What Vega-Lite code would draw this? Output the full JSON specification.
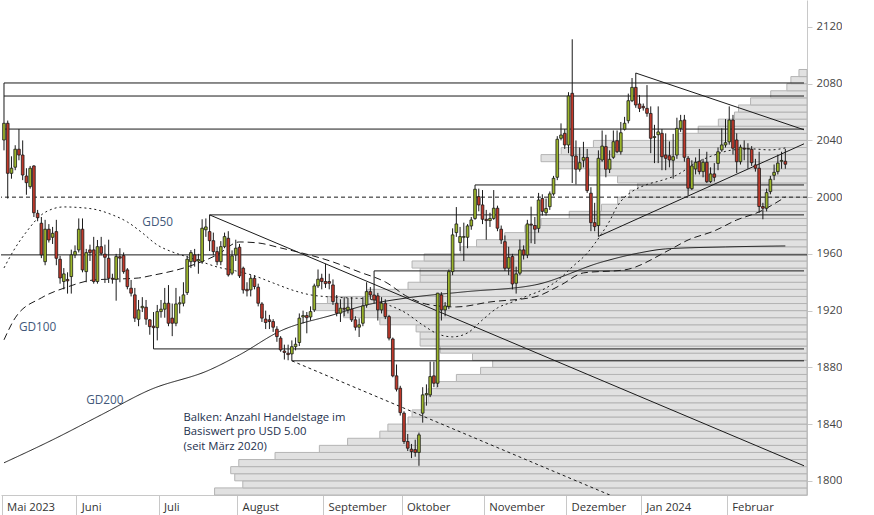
{
  "$schema": "https://vega.github.io/schema/vega-lite/v6.json",
  "width": 806,
  "height": 495,
  "padding": 0,
  "background": "white",
  "config": {
    "view": {"stroke": null},
    "font": "Open Sans",
    "axis": {"labelFont": "Open Sans", "labelFontSize": 11.3, "labelColor": "#444444", "domainColor": "#c8c8c8", "tickColor": "#c8c8c8", "grid": false, "title": null}
  },
  "datasets": {
    "candles": [
      {"date":"2023-05-04","o":2040.3,"h":2080.5,"l":2033,"c":2052.1},
      {"date":"2023-05-05","o":2052.1,"h":2054,"l":1999,"c":2016.8},
      {"date":"2023-05-08","o":2016.8,"h":2028.8,"l":2013,"c":2020.4},
      {"date":"2023-05-09","o":2021.1,"h":2036.6,"l":2019,"c":2033.8},
      {"date":"2023-05-10","o":2033.8,"h":2048,"l":2026,"c":2029.7},
      {"date":"2023-05-11","o":2029.7,"h":2040,"l":2012,"c":2015.6},
      {"date":"2023-05-12","o":2014.9,"h":2020.4,"l":2001.7,"c":2010.2},
      {"date":"2023-05-15","o":2007.4,"h":2022,"l":2006,"c":2020.4},
      {"date":"2023-05-16","o":2022,"h":2022.5,"l":1986,"c":1989},
      {"date":"2023-05-17","o":1988.6,"h":1991,"l":1983,"c":1985.5},
      {"date":"2023-05-18","o":1981.6,"h":1986,"l":1957,"c":1959.3},
      {"date":"2023-05-19","o":1954.5,"h":1984,"l":1952,"c":1977.4},
      {"date":"2023-05-22","o":1977.4,"h":1981,"l":1968,"c":1969.8},
      {"date":"2023-05-23","o":1971.7,"h":1979,"l":1967,"c":1974.5},
      {"date":"2023-05-24","o":1975.7,"h":1984,"l":1952,"c":1956.9},
      {"date":"2023-05-25","o":1956.2,"h":1958.6,"l":1939,"c":1943},
      {"date":"2023-05-26","o":1940.5,"h":1950,"l":1935,"c":1945.9},
      {"date":"2023-05-29","o":1942,"h":1947,"l":1932,"c":1941},
      {"date":"2023-05-30","o":1944,"h":1963,"l":1932,"c":1959.3},
      {"date":"2023-05-31","o":1959.3,"h":1966,"l":1957,"c":1961.6},
      {"date":"2023-06-01","o":1962.8,"h":1985,"l":1961,"c":1977.4},
      {"date":"2023-06-02","o":1977.4,"h":1985,"l":1947,"c":1948.7},
      {"date":"2023-06-05","o":1947.5,"h":1963.5,"l":1940,"c":1960.9},
      {"date":"2023-06-06","o":1962.8,"h":1966.5,"l":1955,"c":1960.9},
      {"date":"2023-06-07","o":1962.8,"h":1972,"l":1939,"c":1940.5},
      {"date":"2023-06-08","o":1940.5,"h":1969.8,"l":1939,"c":1965.1},
      {"date":"2023-06-09","o":1965.1,"h":1972,"l":1959,"c":1960.4},
      {"date":"2023-06-12","o":1959.8,"h":1966.5,"l":1939.5,"c":1957.6},
      {"date":"2023-06-13","o":1956.9,"h":1970,"l":1939.5,"c":1942.8},
      {"date":"2023-06-14","o":1942.8,"h":1946,"l":1939,"c":1942.2},
      {"date":"2023-06-15","o":1942.1,"h":1960,"l":1927,"c":1958.1},
      {"date":"2023-06-16","o":1958,"h":1964,"l":1940,"c":1957},
      {"date":"2023-06-19","o":1958.8,"h":1961,"l":1946,"c":1947.5},
      {"date":"2023-06-20","o":1948.7,"h":1950,"l":1935,"c":1936.9},
      {"date":"2023-06-21","o":1935.8,"h":1941.6,"l":1930,"c":1932.3},
      {"date":"2023-06-22","o":1931.1,"h":1936,"l":1912,"c":1914.7},
      {"date":"2023-06-23","o":1913.9,"h":1927.5,"l":1909,"c":1920.5},
      {"date":"2023-06-26","o":1922,"h":1929.5,"l":1919,"c":1923},
      {"date":"2023-06-27","o":1922.4,"h":1927.5,"l":1910,"c":1914},
      {"date":"2023-06-28","o":1913.5,"h":1914,"l":1903,"c":1908.7},
      {"date":"2023-06-29","o":1909,"h":1919,"l":1893,"c":1908},
      {"date":"2023-06-30","o":1908,"h":1924,"l":1899,"c":1919.3},
      {"date":"2023-07-03","o":1919.3,"h":1927.5,"l":1915,"c":1921},
      {"date":"2023-07-04","o":1921,"h":1936,"l":1915,"c":1925.2},
      {"date":"2023-07-05","o":1925.2,"h":1938,"l":1909,"c":1911.1},
      {"date":"2023-07-06","o":1914.7,"h":1925,"l":1902,"c":1911.1},
      {"date":"2023-07-07","o":1911.1,"h":1936,"l":1909,"c":1924.7},
      {"date":"2023-07-10","o":1924.7,"h":1930,"l":1918,"c":1925.5},
      {"date":"2023-07-11","o":1925.2,"h":1940,"l":1923,"c":1931.1},
      {"date":"2023-07-12","o":1932.7,"h":1958.6,"l":1931,"c":1956.2},
      {"date":"2023-07-13","o":1954.5,"h":1962.7,"l":1950,"c":1960.9},
      {"date":"2023-07-14","o":1959.3,"h":1963.5,"l":1951,"c":1954.5},
      {"date":"2023-07-17","o":1955,"h":1960,"l":1946,"c":1956},
      {"date":"2023-07-18","o":1954.5,"h":1984.4,"l":1953,"c":1978.1},
      {"date":"2023-07-19","o":1977,"h":1985,"l":1972,"c":1979},
      {"date":"2023-07-20","o":1975.7,"h":1987.5,"l":1962,"c":1969.3},
      {"date":"2023-07-21","o":1969.3,"h":1975,"l":1959,"c":1961.6},
      {"date":"2023-07-24","o":1961.6,"h":1965,"l":1952,"c":1954.5},
      {"date":"2023-07-25","o":1954.5,"h":1969,"l":1952,"c":1965.1},
      {"date":"2023-07-26","o":1965.1,"h":1975,"l":1964,"c":1972.2},
      {"date":"2023-07-27","o":1971,"h":1976,"l":1944,"c":1945.2},
      {"date":"2023-07-28","o":1946.4,"h":1962.5,"l":1945,"c":1958.6},
      {"date":"2023-07-31","o":1959.3,"h":1970,"l":1955,"c":1964},
      {"date":"2023-08-01","o":1964.7,"h":1967,"l":1943,"c":1944.5},
      {"date":"2023-08-02","o":1949.9,"h":1951,"l":1932,"c":1934.6},
      {"date":"2023-08-03","o":1935,"h":1940,"l":1930,"c":1934},
      {"date":"2023-08-04","o":1934.6,"h":1945,"l":1930,"c":1942.8},
      {"date":"2023-08-07","o":1942.8,"h":1945,"l":1935,"c":1937},
      {"date":"2023-08-08","o":1936.5,"h":1939,"l":1923,"c":1925.2},
      {"date":"2023-08-09","o":1924.7,"h":1926,"l":1912,"c":1914.7},
      {"date":"2023-08-10","o":1914,"h":1920,"l":1907,"c":1911.6},
      {"date":"2023-08-11","o":1913.5,"h":1917,"l":1907,"c":1912.3},
      {"date":"2023-08-14","o":1912.3,"h":1914,"l":1905,"c":1908.3},
      {"date":"2023-08-15","o":1906.9,"h":1909,"l":1898,"c":1901.7},
      {"date":"2023-08-16","o":1900.6,"h":1902,"l":1891,"c":1892.3},
      {"date":"2023-08-17","o":1891.5,"h":1896,"l":1885.5,"c":1890.5},
      {"date":"2023-08-18","o":1890,"h":1896,"l":1885,"c":1889},
      {"date":"2023-08-21","o":1889.5,"h":1899,"l":1884.6,"c":1894.6},
      {"date":"2023-08-22","o":1894.6,"h":1901,"l":1892,"c":1896.3},
      {"date":"2023-08-23","o":1897.5,"h":1918,"l":1895,"c":1914.7},
      {"date":"2023-08-24","o":1915.5,"h":1920,"l":1911,"c":1916.5},
      {"date":"2023-08-25","o":1916.5,"h":1919,"l":1904,"c":1915},
      {"date":"2023-08-28","o":1915.5,"h":1923,"l":1913,"c":1919.3},
      {"date":"2023-08-29","o":1920.5,"h":1939,"l":1919,"c":1937.4},
      {"date":"2023-08-30","o":1937.4,"h":1949,"l":1936,"c":1942.1},
      {"date":"2023-08-31","o":1942.8,"h":1946,"l":1935,"c":1940.5},
      {"date":"2023-09-01","o":1940.5,"h":1953,"l":1936,"c":1939},
      {"date":"2023-09-04","o":1940.5,"h":1946,"l":1935,"c":1939.3},
      {"date":"2023-09-05","o":1938.1,"h":1942,"l":1924,"c":1926.4},
      {"date":"2023-09-06","o":1925.2,"h":1931,"l":1916,"c":1918.2},
      {"date":"2023-09-07","o":1918.2,"h":1928,"l":1912,"c":1921.7},
      {"date":"2023-09-08","o":1921.7,"h":1929.5,"l":1916,"c":1921},
      {"date":"2023-09-11","o":1920.5,"h":1929,"l":1918,"c":1922.4},
      {"date":"2023-09-12","o":1921,"h":1929.5,"l":1912,"c":1913.5},
      {"date":"2023-09-13","o":1913.5,"h":1916,"l":1906,"c":1908.3},
      {"date":"2023-09-14","o":1908.3,"h":1914.5,"l":1901.4,"c":1910},
      {"date":"2023-09-15","o":1911.1,"h":1929.5,"l":1909,"c":1923.3},
      {"date":"2023-09-18","o":1924,"h":1940,"l":1922,"c":1933.4},
      {"date":"2023-09-19","o":1933.4,"h":1936.6,"l":1928,"c":1931.1},
      {"date":"2023-09-20","o":1931,"h":1948,"l":1925,"c":1927.5},
      {"date":"2023-09-21","o":1930.4,"h":1932.5,"l":1913,"c":1920.5},
      {"date":"2023-09-22","o":1920.5,"h":1929.5,"l":1918,"c":1925.2},
      {"date":"2023-09-25","o":1925.2,"h":1928,"l":1914,"c":1915.8},
      {"date":"2023-09-26","o":1915.8,"h":1917,"l":1899,"c":1900.6},
      {"date":"2023-09-27","o":1900,"h":1901,"l":1873,"c":1874},
      {"date":"2023-09-28","o":1874,"h":1882,"l":1863,"c":1864.6},
      {"date":"2023-09-29","o":1865.3,"h":1867,"l":1846,"c":1848.1},
      {"date":"2023-10-02","o":1847.7,"h":1849,"l":1826,"c":1827.7},
      {"date":"2023-10-03","o":1827.7,"h":1833,"l":1821,"c":1823},
      {"date":"2023-10-04","o":1822.3,"h":1826,"l":1816,"c":1820.6},
      {"date":"2023-10-05","o":1822,"h":1829,"l":1817,"c":1820},
      {"date":"2023-10-06","o":1820,"h":1834,"l":1810.6,"c":1832.4},
      {"date":"2023-10-09","o":1847.7,"h":1866,"l":1841,"c":1860.6},
      {"date":"2023-10-10","o":1860.6,"h":1868,"l":1853,"c":1861.5},
      {"date":"2023-10-11","o":1860.6,"h":1884,"l":1859,"c":1873.5},
      {"date":"2023-10-12","o":1874,"h":1884,"l":1866,"c":1868.8},
      {"date":"2023-10-13","o":1868.8,"h":1932.5,"l":1866,"c":1932.3},
      {"date":"2023-10-16","o":1931,"h":1933,"l":1913,"c":1920.5},
      {"date":"2023-10-17","o":1920.5,"h":1926,"l":1916,"c":1923.3},
      {"date":"2023-10-18","o":1923,"h":1949,"l":1921,"c":1947.5},
      {"date":"2023-10-19","o":1947.5,"h":1978,"l":1945,"c":1973.4},
      {"date":"2023-10-20","o":1975,"h":1993,"l":1972,"c":1981.1},
      {"date":"2023-10-23","o":1968,"h":1979,"l":1962,"c":1972.2},
      {"date":"2023-10-24","o":1971.7,"h":1982,"l":1955,"c":1972.2},
      {"date":"2023-10-25","o":1971.7,"h":1981,"l":1964,"c":1979.7},
      {"date":"2023-10-26","o":1979.7,"h":1986,"l":1977,"c":1983.9},
      {"date":"2023-10-27","o":1985,"h":2008.6,"l":1984,"c":2005.6},
      {"date":"2023-10-30","o":2000.4,"h":2006,"l":1990,"c":1994.5},
      {"date":"2023-10-31","o":1994.5,"h":2005,"l":1981,"c":1984.4},
      {"date":"2023-11-01","o":1984.4,"h":1991,"l":1970,"c":1983.5},
      {"date":"2023-11-02","o":1983.5,"h":1989,"l":1979,"c":1985},
      {"date":"2023-11-03","o":1985,"h":2005,"l":1984,"c":1992.2},
      {"date":"2023-11-06","o":1992.2,"h":1994,"l":1976,"c":1978.1},
      {"date":"2023-11-07","o":1977.4,"h":1980,"l":1967,"c":1969.8},
      {"date":"2023-11-08","o":1968.6,"h":1973,"l":1948,"c":1949.9},
      {"date":"2023-11-09","o":1949.9,"h":1965,"l":1945,"c":1957.6},
      {"date":"2023-11-10","o":1958.1,"h":1960,"l":1935,"c":1938.8},
      {"date":"2023-11-13","o":1939.3,"h":1951,"l":1932,"c":1945.9},
      {"date":"2023-11-14","o":1946.4,"h":1970,"l":1945,"c":1962.8},
      {"date":"2023-11-15","o":1962.8,"h":1966,"l":1956,"c":1959.3},
      {"date":"2023-11-16","o":1959.3,"h":1984,"l":1957,"c":1981.1},
      {"date":"2023-11-17","o":1981,"h":1993.3,"l":1967.5,"c":1980.4},
      {"date":"2023-11-20","o":1980,"h":1986,"l":1967,"c":1977.4},
      {"date":"2023-11-21","o":1978,"h":2003,"l":1975,"c":1998},
      {"date":"2023-11-22","o":1999,"h":2002,"l":1987,"c":1990},
      {"date":"2023-11-23","o":1989,"h":1999,"l":1987,"c":1992},
      {"date":"2023-11-24","o":1993.3,"h":2004,"l":1991,"c":2002.3},
      {"date":"2023-11-27","o":2002.3,"h":2015,"l":2001,"c":2013.3},
      {"date":"2023-11-28","o":2014,"h":2043,"l":2012,"c":2040.8},
      {"date":"2023-11-29","o":2041.5,"h":2052,"l":2040,"c":2043.8},
      {"date":"2023-11-30","o":2045,"h":2048,"l":2034,"c":2036.8},
      {"date":"2023-12-01","o":2036.8,"h":2074,"l":2031,"c":2071.3},
      {"date":"2023-12-04","o":2073.2,"h":2111.3,"l":2010,"c":2029},
      {"date":"2023-12-05","o":2029,"h":2040,"l":2009,"c":2019.7},
      {"date":"2023-12-06","o":2019.7,"h":2035,"l":2018,"c":2024.3},
      {"date":"2023-12-07","o":2026,"h":2039,"l":2021,"c":2028},
      {"date":"2023-12-08","o":2028,"h":2034,"l":2003,"c":2004.6},
      {"date":"2023-12-11","o":2002.8,"h":2007,"l":1976,"c":1982},
      {"date":"2023-12-12","o":1982,"h":1996,"l":1976,"c":1979.2},
      {"date":"2023-12-13","o":1980,"h":2033,"l":1972.3,"c":2027.4},
      {"date":"2023-12-14","o":2026.2,"h":2047,"l":2025,"c":2036},
      {"date":"2023-12-15","o":2035.6,"h":2044,"l":2014,"c":2019.7},
      {"date":"2023-12-18","o":2019.7,"h":2033,"l":2017,"c":2026.7},
      {"date":"2023-12-19","o":2028.1,"h":2047,"l":2027,"c":2039.1},
      {"date":"2023-12-20","o":2039.8,"h":2047,"l":2031,"c":2032},
      {"date":"2023-12-21","o":2032,"h":2053,"l":2030,"c":2045.4},
      {"date":"2023-12-22","o":2047.9,"h":2056.6,"l":2047,"c":2052.1},
      {"date":"2023-12-26","o":2053.9,"h":2073,"l":2052,"c":2068},
      {"date":"2023-12-27","o":2068,"h":2084,"l":2067,"c":2077.4},
      {"date":"2023-12-28","o":2077.4,"h":2087.5,"l":2063,"c":2065},
      {"date":"2023-12-29","o":2065.7,"h":2072,"l":2060,"c":2062.6},
      {"date":"2024-01-01","o":2064,"h":2066,"l":2061,"c":2063},
      {"date":"2024-01-02","o":2062.6,"h":2079,"l":2056.7,"c":2059.1},
      {"date":"2024-01-03","o":2059,"h":2064,"l":2031,"c":2041.5},
      {"date":"2024-01-04","o":2042,"h":2051,"l":2024,"c":2042.7},
      {"date":"2024-01-05","o":2044,"h":2064,"l":2024,"c":2046},
      {"date":"2024-01-08","o":2045,"h":2048,"l":2019,"c":2028.5},
      {"date":"2024-01-09","o":2029.7,"h":2045,"l":2019,"c":2027.4},
      {"date":"2024-01-10","o":2029.2,"h":2039.3,"l":2021,"c":2026.2},
      {"date":"2024-01-11","o":2026,"h":2044.6,"l":2013,"c":2028.5},
      {"date":"2024-01-12","o":2029.7,"h":2056,"l":2027,"c":2048.5},
      {"date":"2024-01-15","o":2048.5,"h":2058,"l":2046,"c":2053.9},
      {"date":"2024-01-16","o":2054.4,"h":2058,"l":2025,"c":2028.1},
      {"date":"2024-01-17","o":2027.4,"h":2029,"l":2001,"c":2006.3},
      {"date":"2024-01-18","o":2006,"h":2026,"l":2005,"c":2022},
      {"date":"2024-01-19","o":2019.9,"h":2028,"l":2016,"c":2024.6},
      {"date":"2024-01-22","o":2025.3,"h":2034,"l":2016,"c":2018},
      {"date":"2024-01-23","o":2018,"h":2027,"l":2014,"c":2024.6},
      {"date":"2024-01-24","o":2024.6,"h":2032,"l":2010,"c":2010.9},
      {"date":"2024-01-25","o":2011,"h":2021,"l":2010,"c":2016.4},
      {"date":"2024-01-26","o":2016.4,"h":2024,"l":2011,"c":2014},
      {"date":"2024-01-29","o":2023.8,"h":2035,"l":2019,"c":2032},
      {"date":"2024-01-30","o":2033.3,"h":2048.5,"l":2032,"c":2036.8},
      {"date":"2024-01-31","o":2036.8,"h":2055,"l":2035,"c":2038.4},
      {"date":"2024-02-01","o":2039,"h":2064,"l":2037,"c":2054.4},
      {"date":"2024-02-02","o":2054.4,"h":2058,"l":2030,"c":2034.5},
      {"date":"2024-02-05","o":2040.3,"h":2045,"l":2017,"c":2025},
      {"date":"2024-02-06","o":2025,"h":2037,"l":2023,"c":2035.2},
      {"date":"2024-02-07","o":2034.5,"h":2040,"l":2026,"c":2034},
      {"date":"2024-02-08","o":2034,"h":2038,"l":2020,"c":2034.2},
      {"date":"2024-02-09","o":2033.7,"h":2036,"l":2022,"c":2024.3},
      {"date":"2024-02-12","o":2022.7,"h":2027,"l":2018,"c":2020.4},
      {"date":"2024-02-13","o":2020.4,"h":2032,"l":1989,"c":1993.4},
      {"date":"2024-02-14","o":1993.4,"h":1996,"l":1984.4,"c":1992.2},
      {"date":"2024-02-15","o":1992.2,"h":2006,"l":1990,"c":2003.2},
      {"date":"2024-02-16","o":2003.9,"h":2015,"l":2002,"c":2012.6},
      {"date":"2024-02-19","o":2015.4,"h":2023,"l":2012,"c":2017.5},
      {"date":"2024-02-20","o":2018,"h":2030,"l":2016,"c":2024},
      {"date":"2024-02-21","o":2025.3,"h":2032,"l":2020,"c":2025.9},
      {"date":"2024-02-22","o":2025.3,"h":2034,"l":2020,"c":2023.2}
    ],
    "profile": [
      {"lo":1790,"hi":1795,"tage":147},{"lo":1795,"hi":1800,"tage":140},{"lo":1800,"hi":1805,"tage":142},
      {"lo":1805,"hi":1810,"tage":143},{"lo":1810,"hi":1815,"tage":141},{"lo":1815,"hi":1820,"tage":132},
      {"lo":1820,"hi":1825,"tage":121},{"lo":1825,"hi":1830,"tage":114},{"lo":1830,"hi":1835,"tage":106},
      {"lo":1835,"hi":1840,"tage":104},{"lo":1840,"hi":1845,"tage":99},{"lo":1845,"hi":1850,"tage":98},
      {"lo":1850,"hi":1855,"tage":95},{"lo":1855,"hi":1860,"tage":94},{"lo":1860,"hi":1865,"tage":94},
      {"lo":1865,"hi":1870,"tage":92},{"lo":1870,"hi":1875,"tage":87},{"lo":1875,"hi":1880,"tage":81},
      {"lo":1880,"hi":1885,"tage":78},{"lo":1885,"hi":1890,"tage":83},{"lo":1890,"hi":1895,"tage":91},
      {"lo":1895,"hi":1900,"tage":96},{"lo":1900,"hi":1905,"tage":96},{"lo":1905,"hi":1910,"tage":97},
      {"lo":1910,"hi":1915,"tage":106},{"lo":1915,"hi":1920,"tage":115},{"lo":1920,"hi":1925,"tage":122},
      {"lo":1925,"hi":1930,"tage":119},{"lo":1930,"hi":1935,"tage":109},{"lo":1935,"hi":1940,"tage":99},
      {"lo":1940,"hi":1945,"tage":96},{"lo":1945,"hi":1950,"tage":96},{"lo":1950,"hi":1955,"tage":98},
      {"lo":1955,"hi":1960,"tage":95},{"lo":1960,"hi":1965,"tage":86},{"lo":1965,"hi":1970,"tage":82},
      {"lo":1970,"hi":1975,"tage":75},{"lo":1975,"hi":1980,"tage":70},{"lo":1980,"hi":1985,"tage":66},
      {"lo":1985,"hi":1990,"tage":59},{"lo":1990,"hi":1995,"tage":51},{"lo":1995,"hi":2000,"tage":47},
      {"lo":2000,"hi":2005,"tage":44},{"lo":2005,"hi":2010,"tage":42},{"lo":2010,"hi":2015,"tage":47},
      {"lo":2015,"hi":2020,"tage":54},{"lo":2020,"hi":2025,"tage":62},{"lo":2025,"hi":2030,"tage":66},
      {"lo":2030,"hi":2035,"tage":61},{"lo":2035,"hi":2040,"tage":53},{"lo":2040,"hi":2045,"tage":32},
      {"lo":2045,"hi":2050,"tage":27},{"lo":2050,"hi":2055,"tage":22},{"lo":2055,"hi":2060,"tage":18},
      {"lo":2060,"hi":2065,"tage":17},{"lo":2065,"hi":2070,"tage":14},{"lo":2070,"hi":2075,"tage":9},
      {"lo":2075,"hi":2080,"tage":5},{"lo":2080,"hi":2085,"tage":4},{"lo":2085,"hi":2090,"tage":2}
    ],
    "levels": [
      {"date":"2023-05-04","end":"2024-02-29","price":2080.5},
      {"date":"2023-05-04","end":"2024-02-29","price":2071.3},
      {"date":"2023-05-04","end":"2024-02-29","price":2048},
      {"date":"2023-10-27","end":"2024-02-29","price":2008.6},
      {"date":"2023-07-20","end":"2024-02-29","price":1987.5},
      {"date":"2023-09-20","end":"2024-02-29","price":1948},
      {"date":"2023-06-29","end":"2024-02-29","price":1893},
      {"date":"2023-08-21","end":"2024-02-29","price":1884.6}
    ],
    "trends": [
      {"linie":"Abwärtstrend Juli","date":"2023-07-20","value":1987.5},
      {"linie":"Abwärtstrend Juli","date":"2024-02-29","value":1810.6},
      {"linie":"Abwärtstrend Dezember","date":"2023-12-28","value":2087.5},
      {"linie":"Abwärtstrend Dezember","date":"2024-02-29","value":2047.5},
      {"linie":"Aufwärtstrend Dezember","date":"2023-12-13","value":1972.3},
      {"linie":"Aufwärtstrend Dezember","date":"2024-02-29","value":2037.6}
    ],
    "channel": [
      {"linie":"Parallele August","date":"2023-08-21","value":1884.6},
      {"linie":"Parallele August","date":"2024-02-29","value":1732.2}
    ],
    "ma": [
      {"name":"GD50","date":"2023-05-04","value":1950.1},{"name":"GD50","date":"2023-05-09","value":1964.2},
      {"name":"GD50","date":"2023-05-12","value":1975.5},{"name":"GD50","date":"2023-05-18","value":1987.5},
      {"name":"GD50","date":"2023-05-23","value":1991.7},{"name":"GD50","date":"2023-05-26","value":1993.1},
      {"name":"GD50","date":"2023-06-01","value":1992.7},{"name":"GD50","date":"2023-06-08","value":1991},
      {"name":"GD50","date":"2023-06-14","value":1987.5},{"name":"GD50","date":"2023-06-20","value":1982.5},
      {"name":"GD50","date":"2023-06-26","value":1974.8},{"name":"GD50","date":"2023-06-30","value":1966.3},
      {"name":"GD50","date":"2023-07-06","value":1961.4},{"name":"GD50","date":"2023-07-12","value":1957.9},
      {"name":"GD50","date":"2023-07-18","value":1954.3},{"name":"GD50","date":"2023-07-24","value":1950.8},
      {"name":"GD50","date":"2023-07-31","value":1948},{"name":"GD50","date":"2023-08-07","value":1944.5},
      {"name":"GD50","date":"2023-08-14","value":1939.5},{"name":"GD50","date":"2023-08-21","value":1934.6},
      {"name":"GD50","date":"2023-08-28","value":1931.1},{"name":"GD50","date":"2023-09-04","value":1929.7},
      {"name":"GD50","date":"2023-09-11","value":1929},{"name":"GD50","date":"2023-09-18","value":1928.3},
      {"name":"GD50","date":"2023-09-25","value":1924.7},{"name":"GD50","date":"2023-10-02","value":1919.1},
      {"name":"GD50","date":"2023-10-09","value":1909.9},{"name":"GD50","date":"2023-10-13","value":1903.6},
      {"name":"GD50","date":"2023-10-19","value":1901.5},{"name":"GD50","date":"2023-10-25","value":1904.3},
      {"name":"GD50","date":"2023-10-31","value":1913.5},{"name":"GD50","date":"2023-11-06","value":1921.9},
      {"name":"GD50","date":"2023-11-10","value":1926.1},{"name":"GD50","date":"2023-11-16","value":1930.4},
      {"name":"GD50","date":"2023-11-22","value":1934.6},{"name":"GD50","date":"2023-11-28","value":1941.1},
      {"name":"GD50","date":"2023-12-04","value":1950.8},{"name":"GD50","date":"2023-12-08","value":1960.5},
      {"name":"GD50","date":"2023-12-14","value":1974.8},{"name":"GD50","date":"2023-12-18","value":1983.2},
      {"name":"GD50","date":"2023-12-20","value":1993.4},{"name":"GD50","date":"2023-12-22","value":1999.9},
      {"name":"GD50","date":"2023-12-27","value":2004},{"name":"GD50","date":"2024-01-02","value":2008.9},
      {"name":"GD50","date":"2024-01-08","value":2011.9},{"name":"GD50","date":"2024-01-12","value":2015.6},
      {"name":"GD50","date":"2024-01-19","value":2024.1},{"name":"GD50","date":"2024-01-26","value":2029.7},
      {"name":"GD50","date":"2024-02-02","value":2033.3},{"name":"GD50","date":"2024-02-09","value":2034},
      {"name":"GD50","date":"2024-02-16","value":2033.3},{"name":"GD50","date":"2024-02-22","value":2034.7},
      {"name":"GD100","date":"2023-05-04","value":1899.4},{"name":"GD100","date":"2023-05-09","value":1914.9},
      {"name":"GD100","date":"2023-05-18","value":1929},{"name":"GD100","date":"2023-05-29","value":1936.7},
      {"name":"GD100","date":"2023-06-07","value":1941.6},{"name":"GD100","date":"2023-06-23","value":1943},
      {"name":"GD100","date":"2023-06-28","value":1944.5},{"name":"GD100","date":"2023-07-12","value":1950.8},
      {"name":"GD100","date":"2023-07-24","value":1959.3},{"name":"GD100","date":"2023-08-01","value":1968.4},
      {"name":"GD100","date":"2023-08-08","value":1967.7},{"name":"GD100","date":"2023-08-16","value":1964.2},
      {"name":"GD100","date":"2023-09-05","value":1954.3},{"name":"GD100","date":"2023-09-14","value":1947.3},
      {"name":"GD100","date":"2023-09-25","value":1940.2},{"name":"GD100","date":"2023-10-03","value":1929.7},
      {"name":"GD100","date":"2023-10-11","value":1924},{"name":"GD100","date":"2023-10-20","value":1922.6},
      {"name":"GD100","date":"2023-11-02","value":1926.1},{"name":"GD100","date":"2023-11-20","value":1929.7},
      {"name":"GD100","date":"2023-11-29","value":1938.1},{"name":"GD100","date":"2023-12-07","value":1946.6},
      {"name":"GD100","date":"2023-12-22","value":1948.7},{"name":"GD100","date":"2024-01-10","value":1962.8},
      {"name":"GD100","date":"2024-01-17","value":1969.8},{"name":"GD100","date":"2024-01-26","value":1976.2},
      {"name":"GD100","date":"2024-02-05","value":1983.9},{"name":"GD100","date":"2024-02-13","value":1989.6},
      {"name":"GD100","date":"2024-02-22","value":2000.1},
      {"name":"GD200","date":"2023-05-04","value":1812.7},{"name":"GD200","date":"2023-05-23","value":1828.9},
      {"name":"GD200","date":"2023-06-09","value":1846.5},{"name":"GD200","date":"2023-06-28","value":1864.1},
      {"name":"GD200","date":"2023-07-20","value":1878.2},{"name":"GD200","date":"2023-08-01","value":1888.8},
      {"name":"GD200","date":"2023-08-16","value":1905.7},{"name":"GD200","date":"2023-09-05","value":1917},
      {"name":"GD200","date":"2023-09-18","value":1924},{"name":"GD200","date":"2023-10-03","value":1929},
      {"name":"GD200","date":"2023-10-24","value":1933.2},{"name":"GD200","date":"2023-11-20","value":1938.1},
      {"name":"GD200","date":"2023-12-14","value":1954.3},{"name":"GD200","date":"2023-12-29","value":1960.7},
      {"name":"GD200","date":"2024-01-09","value":1963.5},{"name":"GD200","date":"2024-01-31","value":1964.9},
      {"name":"GD200","date":"2024-02-22","value":1965.6}
    ],
    "malabels": [
      {"text":"GD50","date":"2023-06-26","price":1982.5},
      {"text":"GD100","date":"2023-05-10","price":1908.5},
      {"text":"GD200","date":"2023-06-05","price":1857.1}
    ],
    "note": [
      {"text":"Balken: Anzahl Handelstage im\nBasiswert pro USD 5.00\n(seit März 2020)","date":"2023-07-11","price":1842.3}
    ]
  },
  "layer": [
    {
      "data": {"name": "profile"},
      "mark": {"type": "bar", "fill": "#e1e1e1", "stroke": "#b4b4b4", "strokeWidth": 1},
      "encoding": {
        "x": {"field": "tage", "type": "quantitative", "scale": {"domain": [0, 200], "reverse": true}, "axis": null},
        "x2": {"datum": 0},
        "y": {"field": "lo", "type": "quantitative", "scale": {"domain": [1790, 2139], "nice": false, "zero": false},
              "axis": {"orient": "right", "format": "d", "values": [1800,1820,1840,1860,1880,1900,1920,1940,1960,1980,2000,2020,2040,2060,2080,2100,2120], "tickSize": 5, "labelPadding": 4, "title": null, "domainColor": "#c8c8c8"}},
        "y2": {"field": "hi"}
      }
    },
    {
      "data": {"values": [{"price": 1959.3}]},
      "mark": {"type": "rule", "color": "#1a1a1a", "strokeWidth": 1},
      "encoding": {"y": {"field": "price", "type": "quantitative", "title": null}}
    },
    {
      "data": {"values": [{"price": 2000}]},
      "mark": {"type": "rule", "color": "#1a1a1a", "strokeWidth": 1, "strokeDash": [4, 3]},
      "encoding": {"y": {"field": "price", "type": "quantitative", "title": null}}
    },
    {
      "encoding": {
        "x": {
          "field": "date", "type": "ordinal", "title": null,
          "scale": {"type": "band", "paddingInner": 0, "paddingOuter": 0.3, "domain": [
            "2023-05-04","2023-05-05","2023-05-08","2023-05-09","2023-05-10","2023-05-11","2023-05-12","2023-05-15","2023-05-16","2023-05-17","2023-05-18","2023-05-19","2023-05-22","2023-05-23","2023-05-24","2023-05-25","2023-05-26","2023-05-29","2023-05-30","2023-05-31",
            "2023-06-01","2023-06-02","2023-06-05","2023-06-06","2023-06-07","2023-06-08","2023-06-09","2023-06-12","2023-06-13","2023-06-14","2023-06-15","2023-06-16","2023-06-19","2023-06-20","2023-06-21","2023-06-22","2023-06-23","2023-06-26","2023-06-27","2023-06-28","2023-06-29","2023-06-30",
            "2023-07-03","2023-07-04","2023-07-05","2023-07-06","2023-07-07","2023-07-10","2023-07-11","2023-07-12","2023-07-13","2023-07-14","2023-07-17","2023-07-18","2023-07-19","2023-07-20","2023-07-21","2023-07-24","2023-07-25","2023-07-26","2023-07-27","2023-07-28","2023-07-31",
            "2023-08-01","2023-08-02","2023-08-03","2023-08-04","2023-08-07","2023-08-08","2023-08-09","2023-08-10","2023-08-11","2023-08-14","2023-08-15","2023-08-16","2023-08-17","2023-08-18","2023-08-21","2023-08-22","2023-08-23","2023-08-24","2023-08-25","2023-08-28","2023-08-29","2023-08-30","2023-08-31",
            "2023-09-01","2023-09-04","2023-09-05","2023-09-06","2023-09-07","2023-09-08","2023-09-11","2023-09-12","2023-09-13","2023-09-14","2023-09-15","2023-09-18","2023-09-19","2023-09-20","2023-09-21","2023-09-22","2023-09-25","2023-09-26","2023-09-27","2023-09-28","2023-09-29",
            "2023-10-02","2023-10-03","2023-10-04","2023-10-05","2023-10-06","2023-10-09","2023-10-10","2023-10-11","2023-10-12","2023-10-13","2023-10-16","2023-10-17","2023-10-18","2023-10-19","2023-10-20","2023-10-23","2023-10-24","2023-10-25","2023-10-26","2023-10-27","2023-10-30","2023-10-31",
            "2023-11-01","2023-11-02","2023-11-03","2023-11-06","2023-11-07","2023-11-08","2023-11-09","2023-11-10","2023-11-13","2023-11-14","2023-11-15","2023-11-16","2023-11-17","2023-11-20","2023-11-21","2023-11-22","2023-11-23","2023-11-24","2023-11-27","2023-11-28","2023-11-29","2023-11-30",
            "2023-12-01","2023-12-04","2023-12-05","2023-12-06","2023-12-07","2023-12-08","2023-12-11","2023-12-12","2023-12-13","2023-12-14","2023-12-15","2023-12-18","2023-12-19","2023-12-20","2023-12-21","2023-12-22","2023-12-26","2023-12-27","2023-12-28","2023-12-29",
            "2024-01-01","2024-01-02","2024-01-03","2024-01-04","2024-01-05","2024-01-08","2024-01-09","2024-01-10","2024-01-11","2024-01-12","2024-01-15","2024-01-16","2024-01-17","2024-01-18","2024-01-19","2024-01-22","2024-01-23","2024-01-24","2024-01-25","2024-01-26","2024-01-29","2024-01-30","2024-01-31",
            "2024-02-01","2024-02-02","2024-02-05","2024-02-06","2024-02-07","2024-02-08","2024-02-09","2024-02-12","2024-02-13","2024-02-14","2024-02-15","2024-02-16","2024-02-19","2024-02-20","2024-02-21","2024-02-22","2024-02-23","2024-02-26","2024-02-27","2024-02-28","2024-02-29"
          ]},
          "axis": {
            "orient": "bottom",
            "values": ["2023-05-04","2023-06-01","2023-07-03","2023-08-01","2023-09-01","2023-10-02","2023-11-01","2023-12-01","2024-01-01","2024-02-01"],
            "labelExpr": "datum.value == '2023-05-04' ? 'Mai 2023' : datum.value == '2023-06-01' ? 'Juni' : datum.value == '2023-07-03' ? 'Juli' : datum.value == '2023-08-01' ? 'August' : datum.value == '2023-09-01' ? 'September' : datum.value == '2023-10-02' ? 'Oktober' : datum.value == '2023-11-01' ? 'November' : datum.value == '2023-12-01' ? 'Dezember' : datum.value == '2024-01-01' ? 'Jan 2024' : 'Februar'",
            "bandPosition": 0,
            "tickSize": 20,
            "labelPadding": -8,
            "labelAlign": "left",
            "labelBaseline": "middle",
            "labelOffset": 3,
            "labelAngle": 0,
            "labelOverlap": false,
            "labelFlush": false,
            "labelColor": "#333333",
            "title": null
          }
        }
      },
      "layer": [
        {
          "data": {"name": "levels"},
          "mark": {"type": "rule", "color": "#1a1a1a", "strokeWidth": 1},
          "encoding": {
            "x2": {"field": "end"},
            "y": {"field": "price", "type": "quantitative", "title": null}
          }
        },
        {
          "data": {"name": "trends"},
          "mark": {"type": "line", "color": "#1a1a1a", "strokeWidth": 1},
          "encoding": {
            "y": {"field": "value", "type": "quantitative", "title": null},
            "detail": {"field": "linie", "type": "nominal"}
          }
        },
        {
          "data": {"name": "channel"},
          "mark": {"type": "line", "color": "#1a1a1a", "strokeWidth": 1, "strokeDash": [3, 3], "clip": true},
          "encoding": {
            "y": {"field": "value", "type": "quantitative", "title": null},
            "detail": {"field": "linie", "type": "nominal"}
          }
        },
        {
          "data": {"name": "ma"},
          "mark": {"type": "line", "color": "#1a1a1a", "strokeWidth": 1, "interpolate": "monotone"},
          "encoding": {
            "y": {"field": "value", "type": "quantitative", "title": null},
            "strokeDash": {"field": "name", "type": "nominal", "scale": {"domain": ["GD50", "GD100", "GD200"], "range": [[2, 3], [7, 4], [1, 0]]}, "legend": null}
          }
        },
        {
          "data": {"name": "candles"},
          "mark": {"type": "rule", "color": "#1a1a1a", "strokeWidth": 1},
          "encoding": {
            "y": {"field": "l", "type": "quantitative", "title": null},
            "y2": {"field": "h"}
          }
        },
        {
          "data": {"name": "candles"},
          "mark": {"type": "bar", "width": {"band": 0.72}, "stroke": "#1a1a1a", "strokeWidth": 0.8},
          "encoding": {
            "y": {"field": "o", "type": "quantitative", "title": null},
            "y2": {"field": "c"},
            "fill": {"condition": {"test": "datum.c >= datum.o", "value": "#9cb62c"}, "value": "#c0392b"}
          }
        },
        {
          "data": {"name": "malabels"},
          "mark": {"type": "text", "align": "left", "baseline": "middle", "fontSize": 11.8, "color": "#42587a", "font": "Open Sans"},
          "encoding": {
            "y": {"field": "price", "type": "quantitative", "title": null},
            "text": {"field": "text"}
          }
        },
        {
          "data": {"name": "note"},
          "mark": {"type": "text", "align": "left", "baseline": "alphabetic", "fontSize": 11.3, "lineHeight": 14.5, "lineBreak": "\n", "color": "#24304d", "font": "Open Sans"},
          "encoding": {
            "y": {"field": "price", "type": "quantitative", "title": null},
            "text": {"field": "text"}
          }
        }
      ]
    }
  ],
  "resolve": {"scale": {"x": "independent"}, "axis": {"x": "independent"}}
}
